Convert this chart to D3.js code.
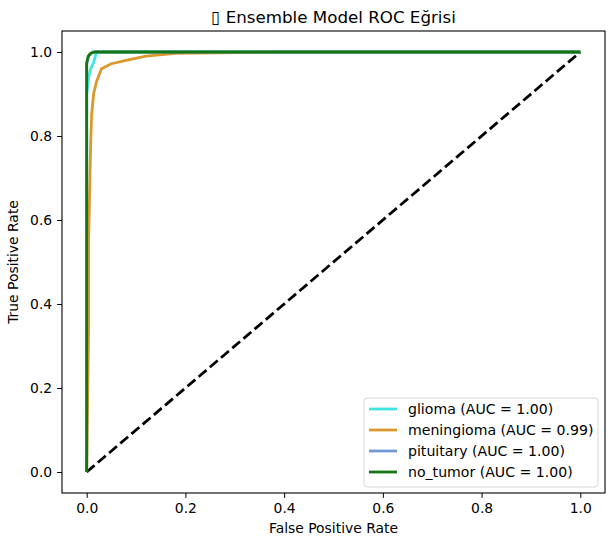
<!DOCTYPE html>
<html>
<head>
<meta charset="utf-8">
<script src="https://cdn.jsdelivr.net/npm/d3@7"></script>
<style>
  body { margin: 0; background: white; }
  text { font-family: "DejaVu Sans", sans-serif; }
</style>
</head>
<body>
<div id="chart"></div>
<script>
// ROC data
const classNames = ["glioma", "meningioma", "pituitary", "no_tumor"];
const aucValues = [1.00, 0.99, 1.00, 1.00];
const colors = ["#3fe6e0", "#dc982a", "#6f98d6", "#127712"];

const gliomaFpr = [0, 0, 0.002, 0.004, 0.008, 0.014, 0.02, 1];
const gliomaTpr = [0, 0.90, 0.92, 0.94, 0.96, 0.975, 1, 1];
const meningiomaFpr = [0, 0.004, 0.004, 0.006, 0.008, 0.01, 0.014, 0.02, 0.03, 0.05, 0.08, 0.12, 0.18, 0.39, 1];
const meningiomaTpr = [0, 0.35, 0.55, 0.67, 0.78, 0.85, 0.90, 0.93, 0.96, 0.972, 0.98, 0.99, 0.997, 1, 1];
const pituitaryFpr = [0, 0, 0.004, 0.012, 1];
const pituitaryTpr = [0, 0.97, 0.99, 1, 1];
const noTumorFpr = [0, 0, 0.003, 0.008, 0.016, 1];
const noTumorTpr = [0, 0.975, 0.99, 0.997, 1, 1];

const xTicks = [0, 0.2, 0.4, 0.6, 0.8, 1.0];
const yTicks = [0, 0.2, 0.4, 0.6, 0.8, 1.0];

const curves = [
  [gliomaFpr, gliomaTpr],
  [meningiomaFpr, meningiomaTpr],
  [pituitaryFpr, pituitaryTpr],
  [noTumorFpr, noTumorTpr]
];

const width = 613, height = 546;
const margin = {left: 62, right: 8, top: 31, bottom: 53};

const svg = d3.select("#chart").append("svg")
  .attr("width", width)
  .attr("height", height)
  .style("background-color", "white");

const x = d3.scaleLinear().domain([-0.05, 1.05]).range([margin.left, width - margin.right]);
const y = d3.scaleLinear().domain([-0.05, 1.05]).range([height - margin.bottom, margin.top]);

// axes
svg.append("g")
  .attr("transform", `translate(0,${height - margin.bottom})`)
  .call(d3.axisBottom(x).tickValues(xTicks).tickFormat(d3.format(".1f")).tickSize(4.9).tickPadding(4.9))
  .call(g => g.select(".domain").remove())
  .selectAll("text").style("font-size", "13.9px").attr("fill", "black");

svg.append("g")
  .attr("transform", `translate(${margin.left},0)`)
  .call(d3.axisLeft(y).tickValues(yTicks).tickFormat(d3.format(".1f")).tickSize(4.9).tickPadding(4.9))
  .call(g => g.select(".domain").remove())
  .selectAll("text").style("font-size", "13.9px").attr("fill", "black");

const line = d3.line().x(d => x(d[0])).y(d => y(d[1]));

// chance line
svg.append("path")
  .attr("d", line([[0, 0], [1, 1]]))
  .attr("fill", "none")
  .attr("stroke", "black")
  .attr("stroke-width", 2.78)
  .attr("stroke-dasharray", "10.3,4.4");

// ROC curves
curves.forEach((c, i) => {
  const pts = c[0].map((f, j) => [f, c[1][j]]);
  svg.append("path")
    .attr("d", line(pts))
    .attr("fill", "none")
    .attr("stroke", colors[i])
    .attr("stroke-width", 2.78)
    .attr("stroke-linejoin", "round");
});

// frame
svg.append("rect")
  .attr("x", margin.left).attr("y", margin.top)
  .attr("width", width - margin.left - margin.right)
  .attr("height", height - margin.top - margin.bottom)
  .attr("fill", "none").attr("stroke", "black").attr("stroke-width", 1.1);

// title and labels (the title's first glyph is missing in the source font, drawn as a box)
svg.append("text")
  .attr("x", (margin.left + width - margin.right) / 2)
  .attr("y", 23)
  .attr("text-anchor", "middle")
  .style("font-size", "16.7px")
  .text("▯ Ensemble Model ROC Eğrisi");

svg.append("text")
  .attr("x", (margin.left + width - margin.right) / 2)
  .attr("y", 533)
  .attr("text-anchor", "middle")
  .style("font-size", "13.9px")
  .text("False Positive Rate");

svg.append("text")
  .attr("transform", `translate(18,${(margin.top + height - margin.bottom) / 2}) rotate(-90)`)
  .attr("text-anchor", "middle")
  .style("font-size", "13.9px")
  .text("True Positive Rate");

// legend
const lg = svg.append("g").attr("transform", "translate(364,398)");
lg.append("rect")
  .attr("width", 234).attr("height", 89)
  .attr("rx", 3)
  .attr("fill", "white").attr("fill-opacity", 0.8)
  .attr("stroke", "#d6d6d6").attr("stroke-width", 1);

classNames.forEach((name, i) => {
  const yy = 11 + i * 21;
  lg.append("line")
    .attr("x1", 5).attr("x2", 33).attr("y1", yy).attr("y2", yy)
    .attr("stroke", colors[i]).attr("stroke-width", 2.78);
  lg.append("text")
    .attr("x", 44).attr("y", yy + 5)
    .style("font-size", "14.1px")
    .text(`${name} (AUC = ${aucValues[i].toFixed(2)})`);
});
</script>
</body>
</html>
